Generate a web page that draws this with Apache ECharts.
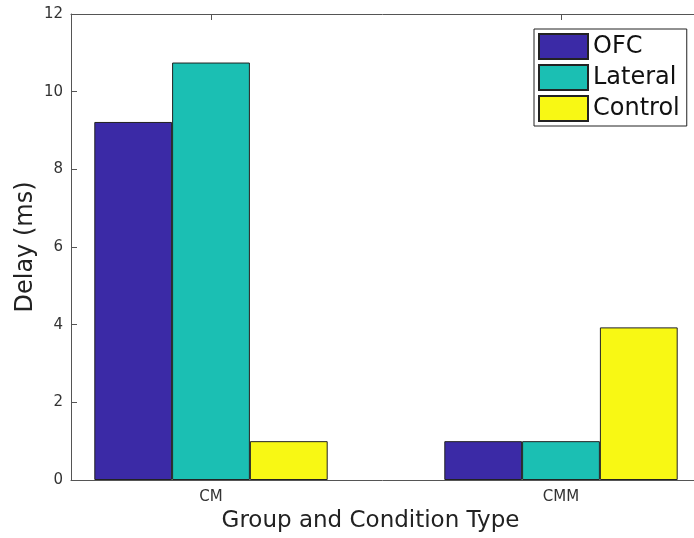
<!DOCTYPE html>
<html>
<head>
<meta charset="utf-8">
<script src="https://cdn.jsdelivr.net/npm/echarts@6/dist/echarts.min.js"></script>
<style>html,body{margin:0;padding:0;background:#fff}#c{width:694px;height:538px}</style>
</head>
<body>
<div id="c"></div>
<script>
const categories = ['CM', 'CMM'];
const positions = [1, 2];
const seriesNames = ['OFC', 'Lateral', 'Control'];
const ofc = [9.22, 1.0];
const lateral = [10.75, 1.0];
const control = [1.0, 3.93];
const yTicks = [0, 2, 4, 6, 8, 10, 12];

const colors = ['#3B2AA6', '#1BBFB3', '#F8F814'];
const values = [ofc, lateral, control];
const FONT = 'DejaVu Sans';

const chart = echarts.init(document.getElementById('c'), null, {renderer: 'canvas'});
const axisColor = '#555';
const xMin = 0.6, xMax = 2.38;
const option = {
  animation: false,
  textStyle: {fontFamily: FONT},
  grid: {left: 71, top: 14, right: 0, bottom: 58, containLabel: false},
  legend: {
    orient: 'vertical', left: 534, top: 29,
    icon: 'rect', itemWidth: 49, itemHeight: 25, itemGap: 4,
    padding: [4, 7, 4, 4],
    borderColor: '#222', borderWidth: 1, backgroundColor: '#fff',
    textStyle: {fontFamily: FONT, fontSize: 24, color: '#111', lineHeight: 25},
    data: seriesNames
  },
  xAxis: [{
    type: 'value', min: xMin, max: xMax, position: 'bottom',
    splitLine: {show: false},
    axisLine: {show: true, lineStyle: {color: axisColor, width: 1}},
    axisTick: {show: true, inside: true, length: 6, customValues: positions, lineStyle: {color: axisColor}},
    axisLabel: {customValues: positions, formatter: v => categories[positions.indexOf(v)], fontSize: 15, color: '#333', margin: 10, fontFamily: FONT},
    name: 'Group and Condition Type', nameLocation: 'middle', nameGap: 30, nameMoveOverlap: false,
    nameTextStyle: {fontSize: 23, color: '#222', fontFamily: FONT, padding: [0, 24, 0, 0]}
  }, {
    type: 'value', min: xMin, max: xMax, position: 'top',
    splitLine: {show: false},
    axisLine: {show: true, lineStyle: {color: axisColor, width: 1}},
    axisTick: {show: true, inside: true, length: 6, customValues: positions, lineStyle: {color: axisColor}},
    axisLabel: {show: false}
  }],
  yAxis: {
    type: 'value', min: yTicks[0], max: yTicks[yTicks.length - 1], interval: 2,
    splitLine: {show: false},
    axisLine: {show: true, lineStyle: {color: axisColor, width: 1}},
    axisTick: {show: true, inside: true, length: 6, lineStyle: {color: axisColor}},
    axisLabel: {fontSize: 15, color: '#333', margin: 8, fontFamily: FONT},
    name: 'Delay (ms)', nameLocation: 'middle', nameRotate: 90, nameGap: 33, nameMoveOverlap: false,
    nameTextStyle: {fontSize: 24, color: '#222', fontFamily: FONT}
  },
  series: seriesNames.map((name, i) => ({
    name: name, type: 'bar', xAxisIndex: 0,
    barWidth: 77.8, barGap: '0%',
    itemStyle: {color: colors[i], borderColor: '#222', borderWidth: 1},
    data: positions.map((p, j) => [p, values[i][j]])
  }))
};
chart.setOption(option);
</script>
</body>
</html>
